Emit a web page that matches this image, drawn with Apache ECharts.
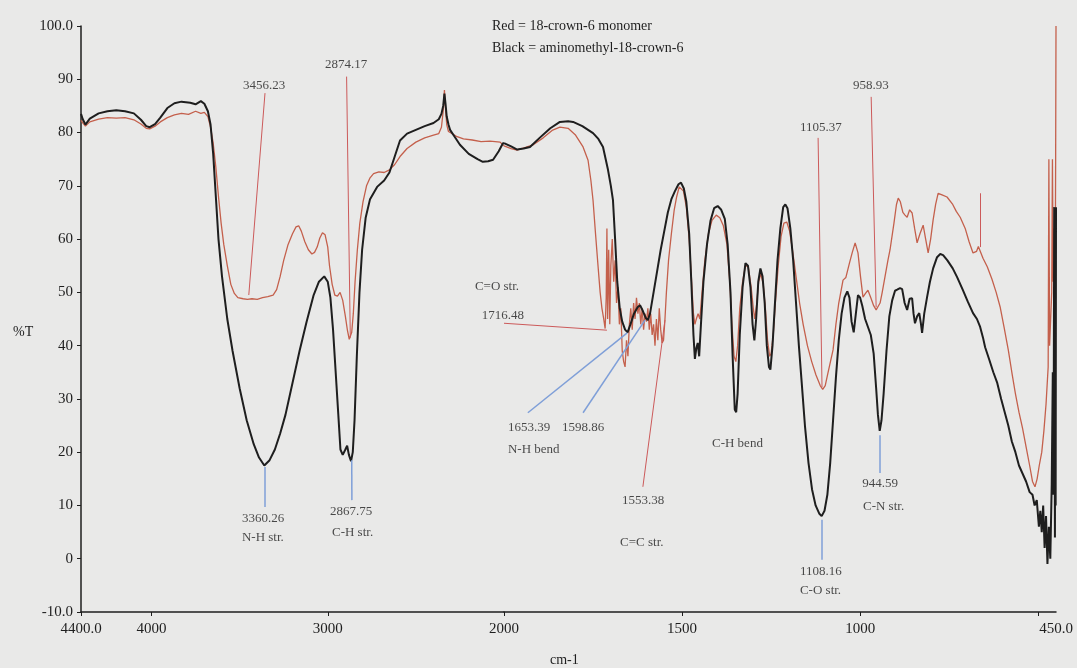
<!DOCTYPE html>
<html>
<head>
<meta charset="utf-8">
<script src="https://cdn.jsdelivr.net/npm/echarts@6/dist/echarts.min.js"></script>
<style>
  html, body { margin: 0; padding: 0; background: #e9e9e8; }
  #chart { width: 1077px; height: 668px; }
</style>
</head>
<body>
<div id="chart"></div>
<script>
// wavenumbers (cm-1) and %T
var blackWn = [4400,4390,4375,4350,4300,4250,4200,4150,4100,4060,4030,4010,3980,3950,3910,3870,3830,3780,3750,3720,3700,3680,3665,3650,3635,3620,3600,3570,3540,3500,3460,3420,3390,3360,3330,3300,3270,3240,3200,3160,3120,3080,3050,3020,3000,2985,2970,2955,2940,2928,2915,2900,2890,2880,2868,2858,2848,2835,2820,2805,2785,2760,2720,2680,2650,2620,2590,2550,2500,2450,2400,2370,2355,2345,2338,2332,2325,2315,2306,2280,2250,2200,2150,2120,2090,2062,2030,2006,
  2000,1980,1963,1945,1927,1900,1870,1843,1820,1806,1780,1750,1735,1722,1708,1700,1694,1688,1682,1675,1668,1660,1653,1645,1635,1625,1618,1610,1602,1596,1590,1580,1570,1560,1550,1540,1530,1520,1510,1503,1495,1488,1480,1474,1468,1464,1460,1456,1452,1447,1440,1430,1420,1410,1400,1390,1380,1372,1364,1358,1352,1348,1344,1338,1330,1322,1315,1308,1302,1297,1292,1286,1280,1274,1268,1262,1256,1252,1246,1240,1232,1224,1216,1210,1204,1196,1188,1180,1172,1164,1155,1145,1135,1125,1115,1108,1100,1092,1084,1076,1068,1060,1052,1044,1036,1030,1024,1018,1012,1006,1000,994,986,978,970,962,955,950,945,940,934,926,918,910,902,896,888,882,875,868,861,854,850,846,840,834,829,826,820,812,804,795,784,775,767,755,740,728,712,698,683,672,663,655,649,638,626,615,604,594,584,574,564,554,544,534,524,516,510,504,498,494,490,486,482,478,474,470,466,462,459,457,455,453,452,451,450];
var blackT = [83.5,82.5,81.5,82.6,83.6,84.0,84.2,84.0,83.6,82.4,81.2,81.0,81.6,82.8,84.6,85.5,85.8,85.6,85.3,85.9,85.4,84.0,81.5,76,68,60,53,45,39,32,26,21.5,19,17.5,18.5,20.5,23.5,27,33,39,44.5,49.5,52,53,52,49,43,35,27,20.5,19.5,20.5,21.2,19.5,18.3,20,26,38,50,58,64,67.5,69.8,71,72.5,75.5,78.5,79.8,80.5,81.2,81.8,82.5,83.5,85,87.3,85.5,83,81.5,80.5,79.2,77.7,76,75,74.5,74.6,74.9,76.5,78,
  78,77.4,76.8,77,77.3,79,80.8,82,82.1,82,81.2,79.9,78.8,77.3,73,70,67.3,60,52,47,44.5,43,42.5,44,46,47.2,47.6,46.5,45.2,44.8,46,50,54,58,61.5,65,67.5,69,70.3,70.6,69.5,67,61,52,42,37.5,39.5,40.5,38,44,52,59,63.5,65.8,66.2,65.5,63.8,59,50,38,28,27.5,31,42,51,55.5,55,51,44,41,45,52,54.5,53,48,40,36,35.5,40,47,56,62,66,66.5,65.8,62,56,48,40,33,25,18,13,10,8.5,8,9,12,18,26,34,41,46,49,50.2,49,44.5,42.5,46,49.5,49,47.5,45,43.5,42,38.5,32,27,24,26,31,39,45.5,48.5,50.3,50.5,50.8,50.6,48,46.7,48.8,48.9,46,44.2,45.5,46.1,44,42.4,46,49.1,52,54.5,56.6,57.2,57,56,54.5,52.9,50.5,48.3,46.1,45,43.5,41.5,39.7,37.5,35,33,30,27.5,25,22,20,17.5,16,14.5,12.5,12,10,11,6,9,5,10,2,8,-1,6,0,14,35,12,66,4,60,10,66];

var redWn = [4400,4390,4375,4350,4300,4250,4200,4150,4100,4060,4030,4010,3980,3950,3910,3870,3830,3790,3750,3720,3700,3680,3665,3650,3635,3620,3605,3590,3570,3550,3530,3510,3480,3456,3430,3400,3370,3340,3310,3290,3270,3250,3225,3200,3180,3165,3150,3130,3110,3090,3075,3060,3045,3030,3015,3000,2990,2975,2960,2945,2930,2915,2900,2888,2878,2872,2864,2855,2845,2832,2818,2800,2780,2760,2740,2710,2680,2650,2620,2590,2550,2500,2450,2400,2370,2355,2345,2338,2332,2325,2315,2306,2270,2230,2180,2130,2080,2050,2022,
  2000,1980,1963,1940,1918,1890,1865,1843,1820,1800,1778,1764,1756,1750,1743,1736,1730,1725,1720,1716,1713,1711,1709,1706,1703,1700,1696,1692,1688,1684,1680,1676,1672,1668,1664,1660,1656,1652,1648,1644,1640,1636,1632,1628,1624,1620,1616,1612,1608,1604,1600,1596,1592,1588,1584,1580,1576,1572,1568,1564,1560,1556,1552,1548,1544,1538,1530,1522,1515,1508,1503,1496,1488,1480,1474,1468,1464,1460,1455,1450,1444,1436,1426,1416,1404,1394,1384,1374,1366,1360,1354,1349,1344,1338,1330,1322,1314,1306,1300,1296,1291,1285,1279,1272,1266,1260,1254,1250,1244,1238,1230,1222,1214,1206,1198,1190,1180,1170,1160,1148,1136,1124,1112,1105,1098,1090,1076,1068,1060,1048,1040,1030,1022,1014,1006,999,992,985,978,970,962,955,950,944,938,930,922,916,905,898,893,887,880,874,868,861,854,847,840,832,823,816,809,802,795,788,781,770,756,740,730,719,705,694,683,673,668,663,655,643,630,618,607,596,584,574,564,554,544,534,524,516,509,503,497,490,484,478,472,470,468,462,460,458,455,453,451,450];
var redT = [82.3,81.8,81.2,82,82.5,82.8,82.7,82.8,82.4,81.6,80.8,80.7,81.2,82,82.8,83.3,83.6,83.4,84,83.6,83.8,83,81,78,73.5,68,63,59,55,51.5,49.8,49,48.8,48.7,48.8,48.7,49,49.2,49.5,50.5,53,56,59,61,62.3,62.5,61.5,59.5,58,57.2,57.5,58.5,60.2,61.2,60.8,58.5,55,51.5,49.5,49.3,50,48.5,45.5,42.8,41.2,41,42.5,46,52,58,63,67,70,71.5,72.3,72.6,72.5,73,74,75.5,77,78.2,79,79.5,79.8,81,84,88,84.5,81.5,80.2,79.9,79.3,78.8,78.6,78.3,78.4,78.3,78.2,
  77.5,77,76.7,77.2,77.7,79,80.4,81,80.8,79.6,77.3,74.8,71,67.3,61,55,50,47,45,43.2,49,62,45,58,44,55,60,52,56,48,51,44,47,39,37,36,41,38,44,47,43,48,45,49,46,48,44,47,43,46,44.5,47,43,46,42,44,40,45,41,47,43,40.5,41,45,50,56,61,65.5,68,69.8,70,69,66,60,53,46,44,45,46,45,50,56,61,63.5,64.5,64,62.5,59,52,44,38,37,40,47,52,55,54.8,51,47,45,47.5,52,53.5,51.5,47,41,38,38.5,42,48,55,60.5,63,63.2,61.5,58,53,48,44,40,37,34.5,32.5,31.8,32.5,35,39.2,44,48,52.3,52.8,55.5,57.5,59.3,57.4,53,49.1,49.8,50.4,49,47.5,46.7,47.3,48,50,53,56,58,63,66.5,67.7,67,65,64.5,64.1,65.5,64.9,62,59.3,61,62.6,60,57.4,60,63.6,66.5,68.6,68.3,67.9,66.5,65.2,64.1,62,59.5,57.4,57.7,58.6,58.3,56.4,54.8,52.5,50,47.3,43.5,39.2,35,31,27.5,24.5,21,17.5,14.5,13.5,15,17.5,20,24,29,36,75,40,50,75,52,62,40,75,100];

var xTicksHigh = [4400, 4000, 3000, 2000];
var xTicksLow = [1500, 1000, 500];
var xLabelsLow = [1500, 1000, 450];
var yTicks = [100, 90, 80, 70, 60, 50, 40, 30, 20, 10, 0, -10];

// peak pointers: [wn1, t1, wn2, t2]
var redPointersHigh = [[3356, 87.4, 3448, 49.5], [2893, 90.5, 2872, 41.5]];
var bluePointersHigh = [[3360, 17.2, 3360, 9.7], [2864, 18.5, 2863, 11.0]];
var redPointersLow = [[2000, 44.2, 1711, 42.9], [1548, 44.8, 1610, 13.5], [1118, 79, 1107, 32.2],
  [969, 86.7, 955, 47.2], [663, 68.6, 663, 58.5]];
var bluePointersLow = [[1933, 27.4, 1654, 42.4], [1778, 27.4, 1604, 44.8], [1107, 7.3, 1107, -0.2], [944, 23.2, 944, 16.1]];

// note texts: [wn, t, text]
var notesHigh = [[3481, 88.9, '3456.23'], [3016, 92.7, '2874.17'], [3487, 7.6, '3360.26'], [3487, 4.0, 'N-H str.'],
  [2987, 8.8, '2867.75'], [2976, 5.0, 'C-H str.'], [2165, 51.0, 'C=O str.'], [2126, 45.7, '1716.48']];
var notesLow = [[1989, 24.7, '1653.39'], [1837, 24.7, '1598.86'], [1989, 20.4, 'N-H bend'], [1669, 11.0, '1553.38'],
  [1674, 3.1, 'C=C str.'], [1416, 21.7, 'C-H bend'], [1169, 80.9, '1105.37'], [1020, 88.9, '958.93'],
  [1169, -2.5, '1108.16'], [1169, -5.9, 'C-O str.'], [994, 14.2, '944.59'], [992, 9.7, 'C-N str.']];

var serif = '"Liberation Serif", "Times New Roman", serif';
var ink = '#1e1e1e';
var redInk = '#c4604c';

function pairs(wn, t, lo, hi) {
  var out = [];
  for (var i = 0; i < wn.length; i++) {
    if (wn[i] >= lo && wn[i] <= hi) out.push([wn[i], t[i]]);
  }
  return out;
}

function pointerLines(list, color, width) {
  return {
    silent: true,
    symbol: 'none',
    label: {show: false},
    lineStyle: {color: color, width: width, type: 'solid'},
    data: list.map(function (p) {
      return [{coord: [p[0], p[1]]}, {coord: [p[2], p[3]]}];
    })
  };
}

function noteSeries(list, xi) {
  return {
    type: 'scatter',
    xAxisIndex: xi,
    yAxisIndex: xi,
    symbolSize: 0,
    silent: true,
    label: {
      show: true,
      position: 'right',
      distance: 0,
      color: ink,
      fontFamily: serif,
      fontSize: 13,
      formatter: function (p) { return p.data[2]; }
    },
    data: list
  };
}

function xAxisBase(gi, min, max, ticks, labels) {
  return {
    type: 'value',
    gridIndex: gi,
    min: min,
    max: max,
    inverse: true,
    splitLine: {show: false},
    axisLine: {show: true, onZero: false, lineStyle: {color: ink, width: 1.5}},
    axisTick: {show: true, length: 4, customValues: ticks, lineStyle: {color: ink}},
    axisLabel: {
      show: true,
      customValues: labels,
      margin: 10,
      color: ink,
      fontFamily: serif,
      fontSize: 15,
      formatter: function (v) {
        if (v === 4400 || v === 450) return v.toFixed(1);
        return String(v);
      }
    }
  };
}

var chart = echarts.init(document.getElementById('chart'));

var option = {
  backgroundColor: '#e9e9e8',
  animation: false,
  grid: [
    {left: 81, top: 26, width: 423, height: 586},
    {left: 504, top: 26, width: 552, height: 586}
  ],
  xAxis: [
    xAxisBase(0, 2000, 4400, xTicksHigh, xTicksHigh),
    xAxisBase(1, 450, 2000, xTicksLow, xLabelsLow)
  ],
  yAxis: [
    {
      type: 'value', gridIndex: 0, min: -10, max: 100,
      splitLine: {show: false},
      axisLine: {show: true, lineStyle: {color: ink, width: 1.5}},
      axisTick: {show: true, length: 4, customValues: yTicks, lineStyle: {color: ink}},
      axisLabel: {
        customValues: yTicks,
        margin: 8,
        color: ink,
        fontFamily: serif,
        fontSize: 15,
        formatter: function (v) {
          if (v === 100 || v === -10) return v.toFixed(1);
          return String(v);
        }
      }
    },
    {
      type: 'value', gridIndex: 1, min: -10, max: 100,
      show: false
    }
  ],
  graphic: [
    {type: 'text', left: 492, top: 19, style: {text: 'Red = 18-crown-6 monomer', fill: ink, font: '14px ' + serif}},
    {type: 'text', left: 492, top: 41, style: {text: 'Black = aminomethyl-18-crown-6', fill: ink, font: '14px ' + serif}},
    {type: 'text', left: 13, top: 325, style: {text: '%T', fill: ink, font: '14px ' + serif}},
    {type: 'text', left: 550, top: 653, style: {text: 'cm-1', fill: ink, font: '14px ' + serif}}
  ],
  series: [
    {
      name: 'red-high', type: 'line', xAxisIndex: 0, yAxisIndex: 0,
      showSymbol: false, symbol: 'none',
      lineStyle: {color: redInk, width: 1.3},
      data: pairs(redWn, redT, 2000, 4400),
      markLine: pointerLines(redPointersHigh, '#cc5a5a', 1)
    },
    {
      name: 'black-high', type: 'line', xAxisIndex: 0, yAxisIndex: 0,
      showSymbol: false, symbol: 'none',
      lineStyle: {color: ink, width: 2},
      data: pairs(blackWn, blackT, 2000, 4400),
      markLine: pointerLines(bluePointersHigh, '#7f9fd8', 1.5)
    },
    {
      name: 'red-low', type: 'line', xAxisIndex: 1, yAxisIndex: 1,
      showSymbol: false, symbol: 'none',
      lineStyle: {color: redInk, width: 1.3},
      data: pairs(redWn, redT, 450, 2000),
      markLine: pointerLines(redPointersLow, '#cc5a5a', 1)
    },
    {
      name: 'black-low', type: 'line', xAxisIndex: 1, yAxisIndex: 1,
      showSymbol: false, symbol: 'none',
      lineStyle: {color: ink, width: 2},
      data: pairs(blackWn, blackT, 450, 2000),
      markLine: pointerLines(bluePointersLow, '#7f9fd8', 1.5)
    },
    noteSeries(notesHigh, 0),
    noteSeries(notesLow, 1)
  ]
};

chart.setOption(option);
window.addEventListener('resize', function () {
  chart.resize();
});
</script>
</body>
</html>
